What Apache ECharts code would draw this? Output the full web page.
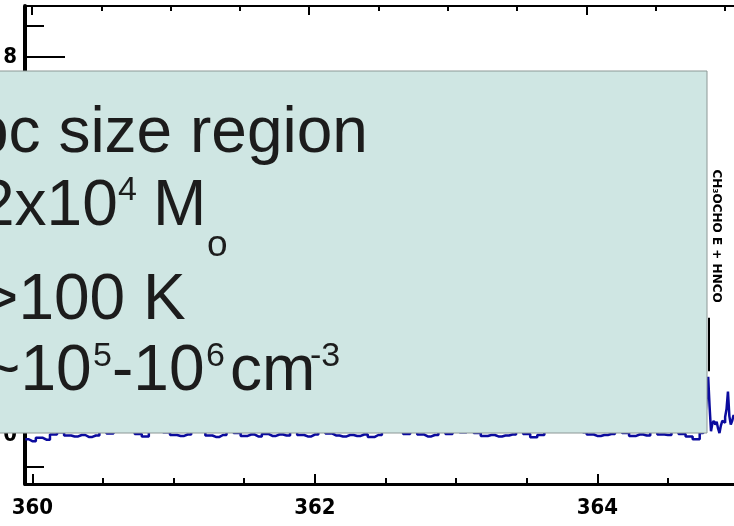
<!DOCTYPE html>
<html>
<head>
<meta charset="utf-8">
<script src="https://cdn.jsdelivr.net/npm/echarts@6/dist/echarts.min.js"></script>
<style>
  html, body { margin: 0; padding: 0; background: #ffffff; }
  #chart { width: 734px; height: 526px; }
</style>
</head>
<body>
<div id="chart"></div>
<script>
// Spectrum: frequency (GHz) and antenna temperature (K)
const freqGHz = [
  359.95, 360.00, 360.05, 360.10, 360.15, 360.20, 360.25, 360.30, 360.35, 360.40,
  360.45, 360.50, 360.55, 360.60, 360.65, 360.70, 360.75, 360.80, 360.85, 360.90,
  360.95, 361.00, 361.05, 361.10, 361.15, 361.20, 361.25, 361.30, 361.35, 361.40,
  361.45, 361.50, 361.55, 361.60, 361.65, 361.70, 361.75, 361.80, 361.85, 361.90,
  361.95, 362.00, 362.05, 362.10, 362.15, 362.20, 362.25, 362.30, 362.35, 362.40,
  362.45, 362.50, 362.55, 362.60, 362.65, 362.70, 362.75, 362.80, 362.85, 362.90,
  362.95, 363.00, 363.05, 363.10, 363.15, 363.20, 363.25, 363.30, 363.35, 363.40,
  363.45, 363.50, 363.55, 363.60, 363.65, 363.70, 363.75, 363.80, 363.85, 363.90,
  363.95, 364.00, 364.05, 364.10, 364.15, 364.20, 364.25, 364.30, 364.35, 364.40,
  364.45, 364.50, 364.55, 364.60, 364.65, 364.70, 364.75, 364.77, 364.78, 364.79,
  364.80, 364.81, 364.82, 364.83, 364.84, 364.85, 364.86, 364.87, 364.88, 364.89,
  364.90, 364.91, 364.92, 364.93, 364.94, 364.95, 364.96, 364.97, 364.98, 365.00
];
const antennaTempK = [
  -0.09, -0.13, -0.06, -0.10, 0.01, 0.06, -0.01, -0.03, 0.00, -0.04,
  -0.01, 0.10, 0.03, 0.12, 0.09, 0.15, 0.02, -0.03, 0.11, 0.14,
  0.06, 0.00, -0.02, 0.01, 0.13, 0.07, -0.01, -0.04, 0.00, 0.09,
  0.04, -0.02, 0.01, -0.03, 0.02, -0.02, 0.01, -0.01, 0.08, 0.00,
  -0.03, 0.01, 0.10, 0.03, -0.01, -0.03, 0.00, -0.02, 0.01, -0.04,
  0.00, 0.12, 0.07, 0.16, 0.02, 0.22, 0.01, -0.03, 0.00, 0.09,
  0.02, 0.11, 0.06, 0.14, 0.04, -0.02, 0.00, -0.03, -0.01, 0.01,
  0.07, 0.02, -0.05, 0.00, 0.10, 0.13, 0.08, 0.17, 0.09, 0.06,
  0.01, -0.02, 0.00, 0.02, 0.12, 0.04, -0.02, 0.01, -0.01, 0.08,
  0.01, 0.00, 0.09, 0.02, -0.03, -0.09, 0.04, 0.20, 0.80, 1.23,
  0.60, 0.08, 0.25, 0.30, 0.22, 0.28, 0.14, 0.04, 0.20, 0.30,
  0.26, 0.38, 0.55, 0.92, 0.40, 0.22, 0.30, 0.42, 0.35, 0.30
];

// Axis ticks
const xTickLabels = [360, 362, 364];
const xMinorTicks = [360.5, 361, 361.5, 362.5, 363, 363.5, 364.5, 365];
const yTickLabels = [0, 2, 4, 6, 8];
const yMajorTicks = [2, 4, 6, 8];
const yMinorTicks = [-0.667, 0.667, 1.333, 2.667, 3.333, 4.667, 5.333, 6.667, 7.333, 8.667];

// Line identification
const lineIdFreq = 364.79;
const lineIdText = 'CH\u2083OCHO E + HNCO';
const lineIdTick = [2.48, 1.35];
const lineIdLabelSpan = [5.8, 2.62];

// Source summary
const summaryRows = [
  [{ t: 'pc size region', x: -27, base: 155 }],
  [{ t: '2x10', x: -21, base: 228 }, { t: '4', x: 118, base: 202, size: 'sup' },
   { t: 'M', x: 153, base: 228 }, { t: 'o', x: 207, base: 258, size: 'sub' }],
  [{ t: '>100 K', x: -19, base: 322 }],
  [{ t: '~10', x: -17, base: 393 }, { t: '5', x: 93, base: 368, size: 'sup' },
   { t: '-10', x: 112, base: 393 }, { t: '6', x: 206, base: 368, size: 'sup' },
   { t: 'cm', x: 230, base: 393 }, { t: '-3', x: 310, base: 368, size: 'sup' }]
];

const chart = echarts.init(document.getElementById('chart'), null, { renderer: 'canvas' });

const spectrum = freqGHz.map((f, i) => [f, antennaTempK[i]]);

const FONT_SIZES = { main: 64, sup: 34, sub: 37 };
const textPieces = [];
summaryRows.forEach(row => row.forEach(p => {
  const fs = FONT_SIZES[p.size || 'main'];
  textPieces.push({
    type: 'text',
    x: p.x,
    y: p.base - fs * 0.33,
    z: 110,
    silent: true,
    style: {
      text: p.t,
      fontSize: fs,
      fontFamily: '"Liberation Sans", Arial, sans-serif',
      fill: '#1c1c1c',
      align: 'left',
      verticalAlign: 'middle'
    }
  });
}));

const axisFont = { fontFamily: '"DejaVu Sans Condensed", "DejaVu Sans", sans-serif', fontWeight: 'bold', fontSize: 22, color: '#000' };

const X_MIN = 359.9483, X_MAX = 364.9678;
const XT_MIN = 359.9495, XT_MAX = 365.0650;
const Y_MIN = -1.037, Y_MAX = 9.0794;

chart.setOption({
  animation: false,
  backgroundColor: '#ffffff',
  grid: { left: 25, top: 6, right: 0, height: 478, containLabel: false },
  xAxis: [
    {
      type: 'value', min: X_MIN, max: X_MAX, position: 'bottom',
      axisLine: { show: true, onZero: false, lineStyle: { color: '#000', width: 3 } },
      axisTick: { show: true, inside: true, length: 10, customValues: xTickLabels, lineStyle: { color: '#000', width: 2 } },
      axisLabel: Object.assign({ show: true, margin: 13, customValues: xTickLabels }, axisFont),
      splitLine: { show: false }
    },
    {
      type: 'value', min: X_MIN, max: X_MAX, position: 'bottom',
      axisLine: { show: false, onZero: false },
      axisTick: { show: true, inside: true, length: 6, customValues: xMinorTicks, lineStyle: { color: '#000', width: 2 } },
      axisLabel: { show: false },
      splitLine: { show: false }
    },
    {
      type: 'value', min: XT_MIN, max: XT_MAX, position: 'top',
      axisLine: { show: true, onZero: false, lineStyle: { color: '#000', width: 2 } },
      axisTick: { show: true, inside: true, length: 9, customValues: xTickLabels, lineStyle: { color: '#000', width: 2 } },
      axisLabel: { show: false },
      splitLine: { show: false }
    },
    {
      type: 'value', min: XT_MIN, max: XT_MAX, position: 'top',
      axisLine: { show: false, onZero: false },
      axisTick: { show: true, inside: true, length: 5, customValues: xMinorTicks, lineStyle: { color: '#000', width: 2 } },
      axisLabel: { show: false },
      splitLine: { show: false }
    }
  ],
  yAxis: [
    {
      type: 'value', min: Y_MIN, max: Y_MAX, position: 'left',
      axisLine: { show: true, onZero: false, lineStyle: { color: '#000', width: 4 } },
      axisTick: { show: true, inside: true, length: 40, customValues: yMajorTicks, lineStyle: { color: '#000', width: 2 } },
      axisLabel: Object.assign({ show: true, margin: 8, padding: [6, 0, 0, 0], customValues: yTickLabels }, axisFont),
      splitLine: { show: false }
    },
    {
      type: 'value', min: Y_MIN, max: Y_MAX, position: 'left',
      axisLine: { show: false, onZero: false },
      axisTick: { show: true, inside: true, length: 19, customValues: yMinorTicks, lineStyle: { color: '#000', width: 2 } },
      axisLabel: { show: false },
      splitLine: { show: false }
    }
  ],
  series: [
    {
      type: 'line',
      xAxisIndex: 0,
      yAxisIndex: 0,
      data: spectrum,
      step: 'middle',
      showSymbol: false,
      symbol: 'none',
      clip: true,
      lineStyle: { color: '#0b0b9e', width: 2.5 },
      emphasis: { disabled: true },
      z: 3,
      markLine: {
        silent: true,
        symbol: ['none', 'none'],
        animation: false,
        label: { show: false },
        emphasis: { disabled: true },
        data: [
          [
            { coord: [lineIdFreq, lineIdTick[0]], lineStyle: { color: '#000', width: 2, type: 'solid' }, label: { show: false } },
            { coord: [lineIdFreq, lineIdTick[1]] }
          ],
          [
            {
              coord: [lineIdFreq, lineIdLabelSpan[0]],
              lineStyle: { color: 'rgba(0,0,0,0)', width: 1, opacity: 1 },
              label: {
                show: true, formatter: lineIdText, position: 'insideMiddleTop', distance: 1, opacity: 1,
                fontFamily: '"DejaVu Sans", sans-serif', fontWeight: 'bold', fontSize: 12, color: '#000'
              }
            },
            { coord: [lineIdFreq, lineIdLabelSpan[1]] }
          ]
        ]
      }
    }
  ],
  graphic: [
    {
      type: 'rect',
      z: 100,
      silent: true,
      shape: { x: -2, y: 71, width: 709, height: 362 },
      style: { fill: '#cfe6e3', stroke: '#8c9896', lineWidth: 1 }
    }
  ].concat(textPieces)
});
</script>
</body>
</html>
